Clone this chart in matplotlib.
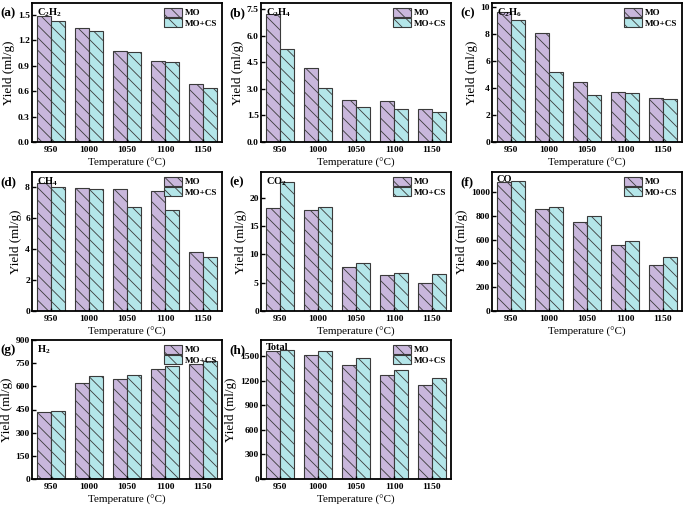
import matplotlib
matplotlib.use('Agg')
import matplotlib.pyplot as plt
import numpy as np

# figure drawn at 150 dpi so the hatch spacing is closer to the original;
# all point sizes are scaled by S to keep the 100 dpi look
DPI = 150
S = 100 / DPI

plt.rcParams['font.family'] = 'Liberation Serif'
plt.rcParams['font.weight'] = 'bold'
plt.rcParams['mathtext.fontset'] = 'custom'
plt.rcParams['mathtext.rm'] = 'Liberation Serif:bold'
plt.rcParams['mathtext.bf'] = 'Liberation Serif:bold'
plt.rcParams['hatch.linewidth'] = 0.6 * S

temps = ['950', '1000', '1050', '1100', '1150']

# yields (ml/g): MO and MO+CS
c2h2_mo = [1.49, 1.34, 1.07, 0.96, 0.68]
c2h2_cs = [1.43, 1.31, 1.06, 0.94, 0.64]
c2h4_mo = [7.25, 4.17, 2.36, 2.32, 1.85]
c2h4_cs = [5.23, 3.03, 2.00, 1.85, 1.72]
c2h6_mo = [9.65, 8.10, 4.45, 3.70, 3.25]
c2h6_cs = [9.05, 5.20, 3.50, 3.62, 3.18]
ch4_mo = [8.28, 7.97, 7.89, 7.76, 3.80]
ch4_cs = [8.04, 7.89, 6.75, 6.55, 3.51]
co2_mo = [18.2, 17.8, 7.7, 6.4, 4.85]
co2_cs = [22.8, 18.4, 8.5, 6.65, 6.45]
co_mo = [1090, 860, 745, 552, 390]
co_cs = [1098, 872, 803, 592, 456]
h2_mo = [436, 623, 645, 713, 745]
h2_cs = [440, 666, 675, 730, 766]
tot_mo = [1570, 1512, 1400, 1275, 1145]
tot_cs = [1575, 1562, 1485, 1332, 1230]

panels = [
    ('(a)', r'C$_2$H$_2$', c2h2_mo, c2h2_cs, 1.64, np.arange(0, 1.51, 0.3), '%.1f'),
    ('(b)', r'C$_2$H$_4$', c2h4_mo, c2h4_cs, 7.85, np.arange(0, 7.6, 1.5), '%.1f'),
    ('(c)', r'C$_2$H$_6$', c2h6_mo, c2h6_cs, 10.3, np.arange(0, 10.1, 2), '%d'),
    ('(d)', r'CH$_4$', ch4_mo, ch4_cs, 9.0, np.arange(0, 8.1, 2), '%d'),
    ('(e)', r'CO$_2$', co2_mo, co2_cs, 24.5, np.arange(0, 20.1, 5), '%d'),
    ('(f)', 'CO', co_mo, co_cs, 1170, np.arange(0, 1001, 200), '%d'),
    ('(g)', r'H$_2$', h2_mo, h2_cs, 900, np.arange(0, 901, 150), '%d'),
    ('(h)', 'Total', tot_mo, tot_cs, 1700, np.arange(0, 1501, 300), '%d'),
]

W, H = 685, 508
lefts = [32, 261, 492]
tops = [3, 172, 340]
aw, ah = 190, 139

fig = plt.figure(figsize=(W / DPI, H / DPI), dpi=DPI)
x = np.arange(len(temps))
bw = 0.37
hatch = '\\' * 4

for i, (tag, gas, mo, cs, ymax, yt, fmt) in enumerate(panels):
    r, c = divmod(i, 3)
    ax = fig.add_axes([lefts[c] / W, 1 - (tops[r] + ah) / H, aw / W, ah / H])
    ax.bar(x - bw / 2, mo, bw, color='#C9B7DC', edgecolor='#3a3a3a', linewidth=0.8 * S,
           hatch=hatch, label='MO')
    ax.bar(x + bw / 2, cs, bw, color='#B4E6E9', edgecolor='#3a3a3a', linewidth=0.8 * S,
           hatch=hatch, label='MO+CS')
    ax.set_xlim(-0.5, 4.5)
    ax.set_ylim(0, ymax)
    ax.set_xticks(x)
    ax.set_xticklabels(temps)
    ax.set_yticks(yt)
    ax.set_yticklabels([fmt % v for v in yt])
    ax.tick_params(direction='in', labelsize=6.8 * S, length=3 * S, width=1 * S, pad=1.5 * S)
    ax.tick_params(axis='x', length=2 * S, pad=3 * S)
    for s in ax.spines.values():
        s.set_linewidth(1.3 * S)
    ax.set_ylabel('Yield (ml/g)', fontsize=9.5 * S, labelpad=2 * S)
    ax.set_xlabel('Temperature (\u00b0C)', fontsize=8 * S, labelpad=2.5 * S)
    ax.text(0.025, 0.975, gas, transform=ax.transAxes, fontsize=7.5 * S, va='top', ha='left')
    fig.text((lefts[c] - 32) / W, 1 - (tops[r] + 10) / H, tag, fontsize=9.5 * S,
             va='center', ha='left')
    ax.legend(loc='upper right', fontsize=6.5 * S, frameon=False, handlelength=2.0,
              handleheight=1.2, borderaxespad=0.1, labelspacing=0.1, handletextpad=0.3)

fig.savefig('out.png', dpi=DPI)
